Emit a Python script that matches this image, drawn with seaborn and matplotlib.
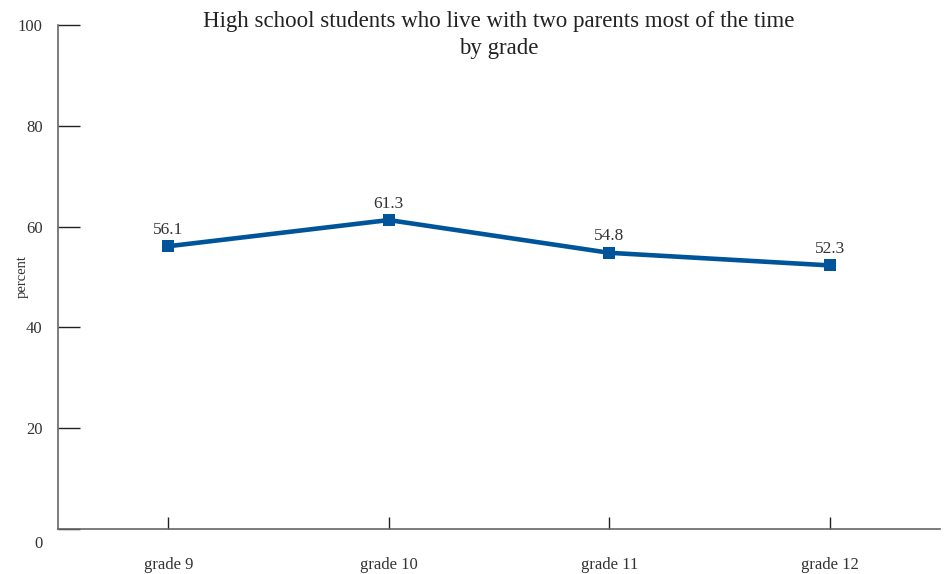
import matplotlib
matplotlib.use("Agg")
import matplotlib.pyplot as plt
import matplotlib.transforms as mtransforms
import seaborn as sns
import pandas as pd

grades = ["grade 9", "grade 10", "grade 11", "grade 12"]
percent = [56.1, 61.3, 54.8, 52.3]
yticks = [0, 20, 40, 60, 80, 100]

sns.set_theme(style="white")
plt.rcParams["font.family"] = ["Liberation Serif", "DejaVu Serif"]

df = pd.DataFrame({"grade": grades, "percent": percent})

fig = plt.figure(figsize=(9.48, 5.74), dpi=100)
ax = fig.add_axes([58/948, 45/574, 882/948, 504/574])

color = "#00559a"
sns.lineplot(data=df, x="grade", y="percent", ax=ax, color=color, linewidth=3.3,
             marker="s", markersize=9, markeredgewidth=0, sort=False)

for i, v in enumerate(percent):
    ax.annotate(f"{v:.1f}", (i, v), xytext=(0, 6), textcoords="offset points",
                ha="center", va="bottom", fontsize=12.5, color="#333333")

ax.set_xlim(-0.5, 3.5)
ax.set_ylim(0, 100)
ax.set_yticks(yticks)
ax.set_xticks(range(len(grades)))
ax.set_xticklabels(grades)
ax.set_xlabel("")
ax.set_ylabel("percent", fontsize=10.5, color="#333333")
ax.yaxis.set_label_coords(-29/882, 0.5)

for s in ["top", "right"]:
    ax.spines[s].set_visible(False)
for s in ["left", "bottom"]:
    ax.spines[s].set_color("#666666")
    ax.spines[s].set_linewidth(1.2)

ax.tick_params(axis="y", direction="in", length=16, width=1, color="#222222",
               pad=11, labelsize=12, labelcolor="#333333", left=True)
ax.tick_params(axis="x", direction="in", length=9, width=1, color="#222222",
               pad=20, labelsize=12, labelcolor="#333333", bottom=True)

lab0 = ax.get_yticklabels()[0]
lab0.set_transform(lab0.get_transform() + mtransforms.ScaledTranslation(0, -9/72, fig.dpi_scale_trans))

ax.text(0.5, 1.0 + 14/504, "High school students who live with two parents most of the time\nby grade",
        transform=ax.transAxes, ha="center", va="top", fontsize=16.5, color="#222222",
        linespacing=1.35)

fig.savefig("out.png", dpi=100)
